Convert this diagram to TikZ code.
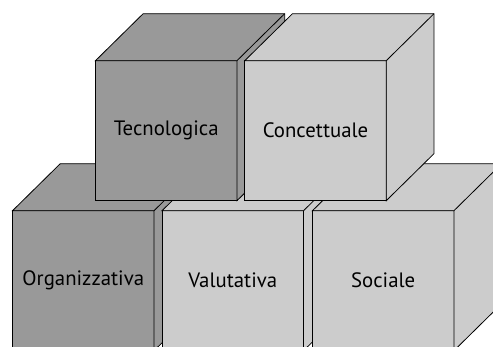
\documentclass[tikz,border=0pt]{standalone}
\usepackage{fontspec}
\setmainfont{PT Sans}
\usepackage{tikz}
\definecolor{cube_dark}{RGB}{153,153,153}
\definecolor{cube_light}{RGB}{204,204,204}

% front face is the node, top and side faces are added after it
\newcommand{\cubo}[5]{%
  \node[front,fill=#4] (#1) at (#2,#3) {#5};
  \filldraw[fill=#4] (#1.north west) -- ++(47.7,47) -- ++(\cubew,0) -- ++(0,-\cubeh)
     -- (#1.south east) -- (#1.north east) -- cycle;
  \draw (#1.north east) -- ++(47.7,47);
}
\newcommand{\cubew}{141.5}
\newcommand{\cubeh}{140}

\begin{document}
\begin{tikzpicture}[x=1pt,y=1pt,line width=0.8pt,line join=miter]
    \tikzstyle{front}=[draw=black, rectangle, minimum width=141.5pt, minimum height=140pt,
      inner sep=0pt, outer sep=0pt, text=black, font=\fontsize{20.8}{24}\selectfont]

    \useasboundingbox (0,0) rectangle (493,-347);
    \clip (0,0) rectangle (493,-347);

    % lower row
    \cubo{org}{83.3}{-280.7}{cube_dark}{Organizzativa}
    \cubo{val}{232.8}{-280.7}{cube_light}{Valutativa}
    \cubo{soc}{383.2}{-280.7}{cube_light}{Sociale}
    % upper row
    \cubo{tec}{166.2}{-130.7}{cube_dark}{Tecnologica}
    \cubo{con}{315.5}{-130.7}{cube_light}{Concettuale}
  \end{tikzpicture}
\end{document}
